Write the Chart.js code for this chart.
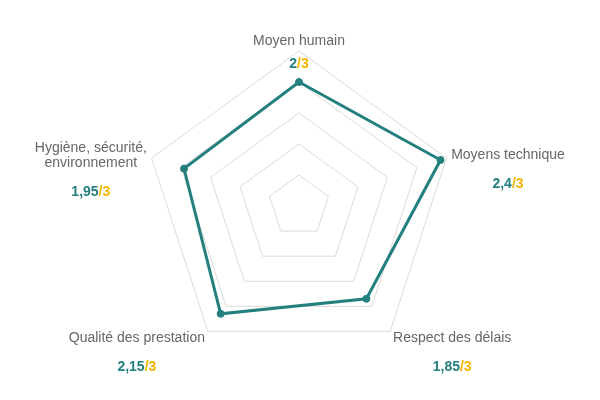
<!DOCTYPE html>
<html>
<head>
<meta charset="utf-8">
<script src="https://cdn.jsdelivr.net/npm/chart.js@4"></script>
<style>
	html, body { margin: 0; padding: 0; background: #fff; }
	#box { width: 600px; height: 400px; }
</style>
</head>
<body>
<div id="box"><canvas id="radar"></canvas></div>
<script>
// categories (labels des axes)
const criteres = [
	'Moyen humain',
	'Moyens technique',
	'Respect des délais',
	'Qualité des prestation',
	['Hygiène, sécurité,', 'environnement']
];
// notes sur 3
const notes = [2, 2.4, 1.85, 2.15, 1.95];
const noteMax = 3;
// texte des notes (virgule décimale)
const notesTexte = ['2', '2,4', '1,85', '2,15', '1,95'];

const TEAL = '#23807f';
const ORANGE = '#f4b400';
const POLICE = '"Liberation Sans", Arial, sans-serif';

// plugin: écrit les labels (centrés) et la note sous chaque label
const labelsPlugin = {
	id: 'labelsNotes',
	afterDraw(chart){
		const scale = chart.scales.r;
		const ctx = chart.ctx;
		const n = criteres.length;
		ctx.save();
		for(let i = 0; i < n; i++){
			const lignes = Array.isArray(criteres[i]) ? criteres[i] : [criteres[i]];
			const p = scale.getPointPosition(i, scale.drawingArea + 5);
			const deg = (360 / n * i) % 360;
			ctx.font = '14px ' + POLICE;
			let w = 0;
			lignes.forEach(function(l){ w = Math.max(w, ctx.measureText(l).width); });
			const lh = 15;
			const h = lignes.length * lh;
			// coin haut-gauche du bloc de texte
			let left, top;
			if(deg === 0){ left = p.x - w / 2; top = p.y - h + 3; }
			else if(deg < 90){ left = p.x; top = p.y - h / 2 - 1; }
			else if(deg < 180){ left = p.x; top = p.y - 5; }
			else if(deg < 270){ left = p.x - w; top = p.y - 5; }
			else { left = p.x - w; top = p.y - h / 2 - 1; }
			const cx = left + w / 2;
			ctx.fillStyle = '#666';
			ctx.textAlign = 'center';
			ctx.textBaseline = 'middle';
			lignes.forEach(function(l, k){ ctx.fillText(l, cx, top + lh * k + lh / 2); });
			// note
			const y = top + h - lh / 2 + (deg === 0 ? 23 : 29);
			ctx.font = 'bold 14px ' + POLICE;
			ctx.textAlign = 'left';
			const a = notesTexte[i];
			const b = '/' + noteMax;
			const wa = ctx.measureText(a).width;
			const wb = ctx.measureText(b).width;
			const x0 = cx - (wa + wb) / 2;
			ctx.fillStyle = TEAL;
			ctx.fillText(a, x0, y);
			ctx.fillStyle = ORANGE;
			ctx.fillText(b, x0 + wa, y);
		}
		ctx.restore();
	}
};

new Chart(document.getElementById('radar'), {
	type: 'radar',
	data: {
		labels: criteres,
		datasets: [{
			data: notes,
			borderColor: TEAL,
			backgroundColor: 'rgba(0,0,0,0)',
			borderWidth: 3,
			pointRadius: 3.5,
			pointBorderWidth: 1,
			pointBackgroundColor: TEAL,
			pointBorderColor: TEAL,
			fill: false
		}]
	},
	options: {
		responsive: true,
		maintainAspectRatio: false,
		animation: false,
		layout: { padding: { top: 51, bottom: 39, left: 144, right: 146 } },
		plugins: {
			legend: { display: false },
			tooltip: { enabled: false }
		},
		scales: {
			r: {
				min: 0,
				max: 2.5,
				ticks: { stepSize: 0.5, display: false },
				angleLines: { display: false },
				grid: { color: '#dadada', lineWidth: 1 },
				pointLabels: { display: false }
			}
		}
	},
	plugins: [labelsPlugin]
});
</script>
</body>
</html>
